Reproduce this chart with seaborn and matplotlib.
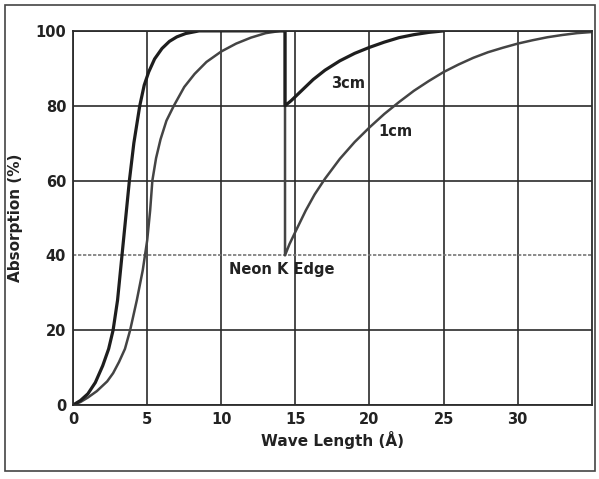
import matplotlib
matplotlib.use("Agg")
import matplotlib.pyplot as plt
import seaborn as sns
import pandas as pd
from matplotlib.patches import Rectangle

# ---- data ----
wave_3cm = [0, 0.5, 1.0, 1.5, 2.0, 2.4, 2.7, 3.0, 3.25, 3.5, 3.8, 4.1, 4.5, 4.8, 5.1, 5.5, 6.0, 6.5, 7.0, 7.6, 8.5,
            14.3, 14.3, 14.7, 15.2, 16.2, 17.0, 18.0, 19.0, 20.0, 21.0, 22.0, 23.0, 24.0, 25.0]
abs_3cm = [0, 1.2, 3, 6, 10.5, 15, 20, 28, 38, 48, 60, 70, 80, 85.5, 89, 92.5, 95.3, 97.2, 98.4, 99.3, 100,
           100, 80, 81.3, 83.2, 87, 89.5, 92, 94, 95.6, 97, 98.2, 99, 99.6, 100]

wave_1cm = [0, 0.5, 1.0, 1.6, 2.3, 2.7, 3.1, 3.5, 3.85, 4.3, 4.7, 5.0, 5.2, 5.35, 5.6, 5.9, 6.3, 6.8, 7.5, 8.2, 9.0,
            10.0, 11.0, 12.0, 13.0, 14.0, 14.3,
            14.3, 14.6, 15.0, 15.7, 16.3, 17.0, 18.0, 19.0, 20.0, 21.0, 22.0, 23.0, 24.0, 25.0, 26.0, 27.0,
            28.0, 29.0, 30.0, 31.0, 32.0, 33.0, 34.0, 35.0]
abs_1cm = [0, 0.8, 2, 3.7, 6.3, 8.5, 11.5, 15, 20, 28, 36, 44, 52, 60, 66, 71, 76, 80, 85, 88.5, 91.7,
           94.5, 96.6, 98.2, 99.4, 100, 100,
           40, 43, 46.3, 52, 56.3, 60.5, 65.8, 70.3, 74.2, 77.8, 81, 84, 86.6, 89, 91, 92.8,
           94.3, 95.5, 96.6, 97.5, 98.3, 98.9, 99.4, 99.7]

x_ticks = [0, 5, 10, 15, 20, 25, 30]
y_ticks = [0, 20, 40, 60, 80, 100]
curve_labels = ["3cm", "1cm"]
edge_label = "Neon K Edge"
x_title = "Wave Length (Å)"
y_title = "Absorption (%)"

df = pd.concat([
    pd.DataFrame({"wave": wave_3cm, "absorption": abs_3cm, "thickness": "3cm"}),
    pd.DataFrame({"wave": wave_1cm, "absorption": abs_1cm, "thickness": "1cm"}),
])

sns.set_style("white")
plt.rcParams["font.family"] = ["DejaVu Sans"]

fig = plt.figure(figsize=(5.99, 4.79), dpi=100)
ax = fig.add_axes([0.122, 0.1545, 0.866, 0.781])

line_col = "#2b2b2b"
txt_col = "#222222"
ax.set_xlim(0, 35)
ax.set_ylim(0, 100)
ax.set_xticks(x_ticks)
ax.set_yticks(y_ticks)
ax.grid(True, color=line_col, lw=1.2)
ax.set_axisbelow(True)
ygl = ax.get_ygridlines()
ygl[2].set_color("#777777")
ygl[2].set_linestyle((0, (2, 1)))

sub3 = df[df.thickness == "3cm"]
sub1 = df[df.thickness == "1cm"]
sns.lineplot(data=sub1, x="wave", y="absorption", sort=False, estimator=None,
             color="#444444", lw=1.8, ax=ax)
sns.lineplot(data=sub3, x="wave", y="absorption", sort=False, estimator=None,
             color="#1e1e1e", lw=2.3, ax=ax)

for s in ax.spines.values():
    s.set_color(line_col)
    s.set_linewidth(1.3)

ax.tick_params(axis="both", length=0, labelsize=10.5, colors=txt_col)
ax.tick_params(axis="x", pad=5)
ax.tick_params(axis="y", pad=5)
for lab in ax.get_xticklabels() + ax.get_yticklabels():
    lab.set_fontweight("bold")

ax.set_xlabel(x_title, fontsize=11, fontweight="bold", color=txt_col, labelpad=3)
ax.set_ylabel(y_title, fontsize=11, fontweight="bold", color=txt_col, labelpad=9)

ax.text(17.4, 86, curve_labels[0], fontsize=10.5, fontweight="bold", va="center", ha="left", color=txt_col)
ax.text(20.6, 73, curve_labels[1], fontsize=10.5, fontweight="bold", va="center", ha="left", color=txt_col)
ax.text(14.1, 36.3, edge_label, fontsize=10.5, fontweight="bold", va="center", ha="center", color=txt_col)

fig.patches.append(Rectangle((0.008, 0.017), 0.985, 0.973, transform=fig.transFigure,
                             fill=False, edgecolor="#444444", lw=1.2))

fig.savefig("out.png", dpi=100)
